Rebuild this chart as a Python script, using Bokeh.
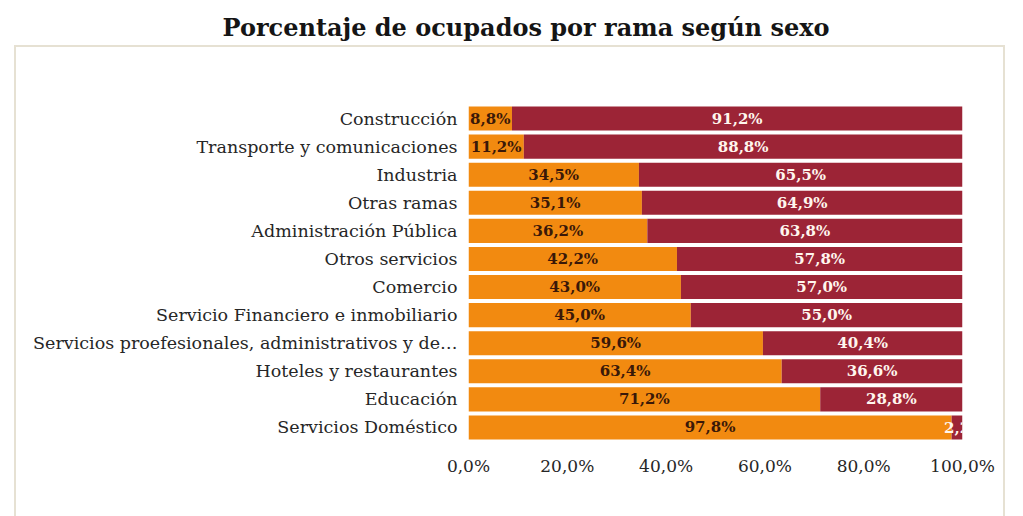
from bokeh.plotting import figure
from bokeh.models import (ColumnDataSource, Range1d, FixedTicker, LabelSet, InlineStyleSheet,
                          Title, Legend)
from bokeh.core.properties import value
from bokeh.embed import file_html
from bokeh.resources import INLINE

categories = ["Construcción", "Transporte y comunicaciones", "Industria", "Otras ramas",
              "Administración Pública", "Otros servicios", "Comercio",
              "Servicio Financiero e inmobiliario",
              "Servicios proefesionales, administrativos y de…",
              "Hoteles y restaurantes", "Educación", "Servicios Doméstico"]
mujeres = [8.8, 11.2, 34.5, 35.1, 36.2, 42.2, 43.0, 45.0, 59.6, 63.4, 71.2, 97.8]
hombres = [91.2, 88.8, 65.5, 64.9, 63.8, 57.8, 57.0, 55.0, 40.4, 36.6, 28.8, 2.2]
tick_values = [0, 20, 40, 60, 80, 100]
tick_labels = ["0,0%", "20,0%", "40,0%", "60,0%", "80,0%", "100,0%"]
series = ["Mujeres", "Hombres"]

ORANGE = "#F28A10"
RED = "#9C2436"
FONT = "DejaVu Serif"

def fmt(v):
    s = f"{v:.1f}".replace(".", ",")
    return s if v < 5 else s + "%"

src = ColumnDataSource(dict(
    cat=categories, Mujeres=mujeres, Hombres=hombres,
    m_mid=[m / 2 for m in mujeres],
    h_mid=[m + h / 2 for m, h in zip(mujeres, hombres)],
    m_lab=[fmt(v) for v in mujeres],
    h_lab=[fmt(v) for v in hombres],
))

frame_css = InlineStyleSheet(css="""
:host::after { content: ''; position: absolute; left: 14px; top: 45px; width: 987px;
  height: 520px; border: 2px solid #E6E1D3; pointer-events: none; }
""")

p = figure(frame_width=494, frame_height=337, y_range=list(reversed(categories)),
           x_range=Range1d(0, 100), output_backend="svg", toolbar_location=None,
           min_border_left=468, min_border_right=59, min_border_top=104, min_border_bottom=70,
           stylesheets=[frame_css])
p.border_fill_color = "white"
p.background_fill_color = "white"
p.outline_line_color = None

# spacer between frame and title, then the title itself
p.add_layout(Title(text=" ", text_font_size="1px", standoff=60), "above")
p.add_layout(Title(text="Porcentaje de ocupados por rama según sexo",
                   align="left", offset=-246, standoff=0,
                   text_font=FONT, text_font_style="bold",
                   text_font_size="24px", text_color="#151515"), "above")

renderers = p.hbar_stack(series, y="cat", height=0.86, source=src,
                         color=[ORANGE, RED], line_color=None)

p.add_layout(LabelSet(x="m_mid", y="cat", text="m_lab", source=src,
                      text_align="center", text_baseline="middle",
                      text_font=value(FONT), text_font_style="bold",
                      text_font_size="15px", text_color="#3A1808"))
p.add_layout(LabelSet(x="h_mid", y="cat", text="h_lab", source=src,
                      text_align="center", text_baseline="middle",
                      text_font=value(FONT), text_font_style="bold",
                      text_font_size="15px", text_color="#FFF6EE"))

p.xgrid.grid_line_color = None
p.ygrid.grid_line_color = None

p.xaxis.ticker = FixedTicker(ticks=tick_values)
p.xaxis.major_label_overrides = {v: l for v, l in zip(tick_values, tick_labels)}
p.xaxis.axis_line_color = None
p.xaxis.major_tick_line_color = None
p.xaxis.minor_tick_line_color = None
p.xaxis.major_label_standoff = 8
p.xaxis.major_label_text_font = FONT
p.xaxis.major_label_text_font_size = "17px"
p.xaxis.major_label_text_color = "#262626"

p.yaxis.axis_line_color = None
p.yaxis.major_tick_line_color = None
p.yaxis.minor_tick_line_color = None
p.yaxis.major_label_standoff = 5
p.yaxis.major_label_text_font = FONT
p.yaxis.major_label_text_font_size = "17.5px"
p.yaxis.major_label_text_color = "#262626"

lg = Legend(items=[(s, [r]) for s, r in zip(series, renderers)],
            orientation="horizontal", location=(-58, -19),
            background_fill_alpha=0, border_line_color=None,
            padding=0, margin=0, spacing=14, glyph_width=10, glyph_height=10,
            label_standoff=5, label_text_font=FONT, label_text_font_size="17px",
            label_text_color="#5A5A5A")
p.add_layout(lg, "below")

open("out.html", "w").write(file_html(p, INLINE))
